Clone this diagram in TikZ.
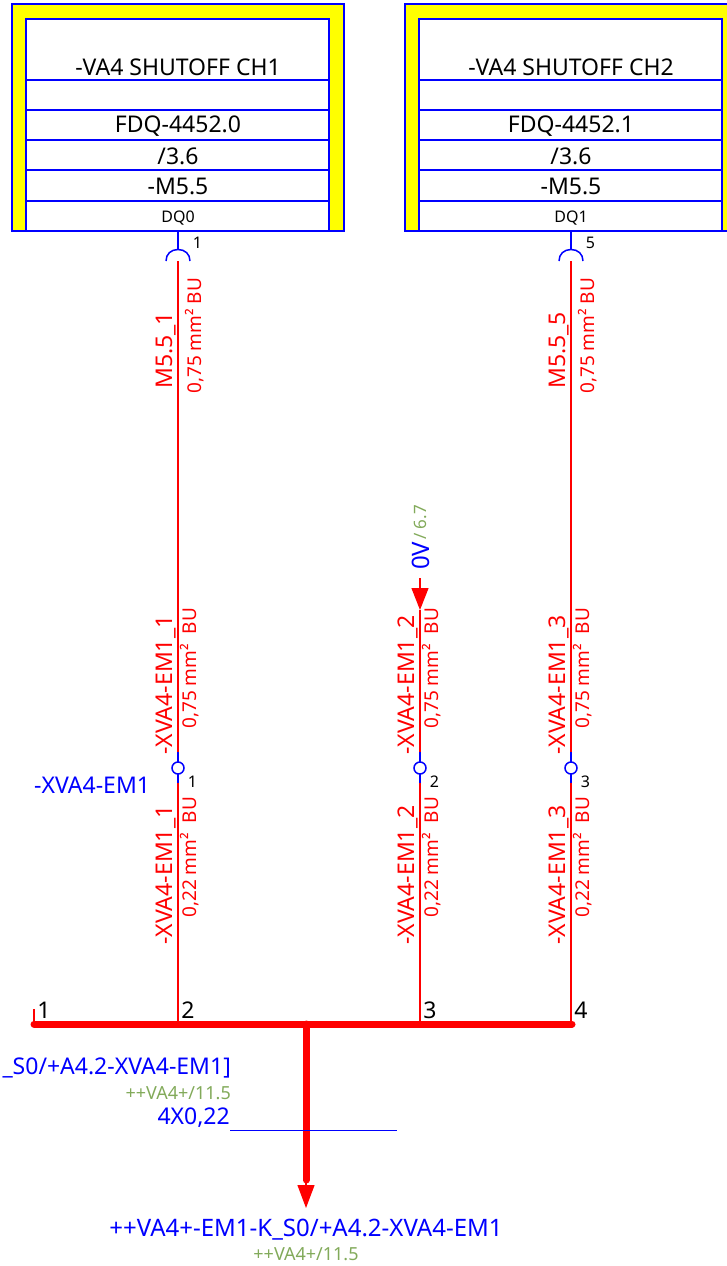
\documentclass[tikz,border=0pt]{standalone}
\usepackage{fontspec}
\setmainfont{Noto Sans}
\usetikzlibrary{arrows.meta}
\definecolor{refgreen}{RGB}{130,170,90}
\definecolor{refyellow}{RGB}{255,255,0}
\newcommand{\fsize}[1]{\fontsize{#1}{#1}\selectfont}
\begin{document}
\begin{tikzpicture}[
    x=1pt, y=-1pt,
    boxline/.style={draw=blue, line width=1.5pt},
    wire/.style={draw=red, line width=1.2pt},
    bus/.style={draw=red, line width=7pt},
    stub/.style={draw=blue, line width=1.5pt},
    term/.style={circle, draw=blue, fill=white, line width=1.5pt, minimum size=12pt, inner sep=0pt},
    rowtext/.style={font=\fsize{23}, inner sep=0pt},
    pintext/.style={font=\fsize{16}, inner sep=0pt},
    bustext/.style={font=\fsize{23}, inner sep=0pt},
    wirename/.style={rotate=90, anchor=base west, inner sep=0pt, text=red, font=\fsize{23}},
    wiredata/.style={rotate=90, anchor=base west, inner sep=0pt, text=red, font=\fsize{19}},
    bluetext/.style={text=blue, inner sep=0pt, font=\fsize{23}},
    greentext/.style={text=refgreen, inner sep=0pt, font=\fsize{18}}
]
\useasboundingbox (0,0) rectangle (726,1266);

% Boxes
\foreach \x/\ch/\fdq/\dq/\pin/\id in {178/CH1/FDQ-4452.0/DQ0/1/a,571/CH2/FDQ-4452.1/DQ1/5/c} {
    \path[fill=refyellow, boxline] (\x-166,231) -- (\x-166,4) -- (\x+166,4) -- (\x+166,231) -- cycle;
    \path[fill=white, boxline] (\x-152,231) -- (\x-152,19) -- (\x+151,19) -- (\x+151,231) -- cycle;
    \foreach \y in {80,110,140,170,201} {
        \draw[boxline] (\x-152,\y) -- (\x+151,\y);
    }
    \node[rowtext] (title\id) at (\x,67) {-VA4 SHUTOFF \ch};
    \node[rowtext] (fdq\id) at (\x,126) {\fdq};
    \node[rowtext] (page\id) at (\x,156) {/3.6};
    \node[rowtext] (mark\id) at (\x,186) {-M5.5};
    \node[inner sep=0pt, font=\fsize{16}] (dq\id) at (\x,218) {\dq};
    \coordinate (out\id) at (\x,231);
    \coordinate (sock\id) at (\x,249.5);
    \coordinate (plug\id) at (\x,261);
    \node[pintext] (pin\id) at (\x+19.5,243) {\pin};
    \draw[stub] (out\id) -- (sock\id);
    \draw[stub] (\x-12,261) .. controls (\x-12,254) and (\x-7,249.5) .. (sock\id)
        .. controls (\x+7,249.5) and (\x+12,254) .. (\x+12,261);
}

% Terminals
\foreach \x/\n/\id/\num in {178/1/a/2,420/2/b/3,571/3/c/4} {
    \coordinate (up\id) at (\x,752);
    \coordinate (down\id) at (\x,783);
    \coordinate (bus\id) at (\x,1024);
    \draw[wire] (down\id) -- (bus\id);
    \draw[stub] (up\id) -- (down\id);
    \node[term] (term\id) at (\x,768) {};
    \node[pintext] (tnum\id) at (\x+14.5,782) {\n};
    \node[bustext] (bnum\id) at (\x+10,1010) {\num};
    \node[wirename] (lowname\id) at (\x-6,945) {-XVA4-EM1\_\n};
    \node[wiredata] (lowdata\id) at (\x+18.5,918) {0,22 mm²\ \ BU};
    \node[wirename] (upname\id) at (\x-6,755) {-XVA4-EM1\_\n};
    \node[wiredata] (updata\id) at (\x+18.5,729) {0,75 mm²\ \ BU};
}
\node[bluetext, anchor=west] (xname) at (34,785) {-XVA4-EM1};

% Upper wires
\draw[wire] (pluga) -- (upa);
\draw[wire] (plugc) -- (upc);
\node[wirename] (topnamea) at (172,389) {M5.5\_1};
\node[wiredata] (topdataa) at (201,394) {0,75 mm² BU};
\node[wirename] (topnamec) at (565,389) {M5.5\_5};
\node[wiredata] (topdatac) at (594,394) {0,75 mm² BU};

% Potential
\coordinate (zerotop) at (420,578);
\coordinate (zerotip) at (420,610);
\draw[wire] (zerotip) -- (upb);
\draw[wire, -{Triangle[length=22pt, width=17pt]}] (zerotop) -- (zerotip);
\node[rotate=90, anchor=base west, inner sep=0pt, text=blue, font=\fsize{24}] (zero) at (429,570) {0V};
\node[rotate=90, anchor=base west, inner sep=0pt, text=refgreen, font=\fsize{17}] (zeropage) at (426,540) {/ 6.7};

% Bus
\coordinate (busleft) at (34,1024);
\coordinate (busright) at (572,1024);
\coordinate (stubtop) at (34,1009);
\coordinate (trunktop) at (306,1024);
\coordinate (trunkend) at (306,1180);
\coordinate (trunktip) at (306,1208);
\draw[wire] (stubtop) -- (busleft);
\draw[bus, line cap=round] (busleft) -- (busright);
\node[bustext] (bnumz) at (44,1010) {1};
\draw[draw=red, line width=7pt, line cap=round] (trunktop) -- (trunkend);
\draw[wire, -{Triangle[length=23pt, width=17pt]}] (trunkend) -- (trunktip);

% Cable
\node[bluetext, anchor=east] (cableref) at (231,1068) {\_S0/+A4.2-XVA4-EM1]};
\node[greentext, anchor=east] (cablepage) at (231,1093) {++VA4+/11.5};
\node[bluetext, anchor=east] (cabletype) at (230,1118) {4X0,22};
\coordinate (cableend) at (397,1130);
\draw[draw=blue, line width=1pt] (230,1130) -- (cableend);
\node[text=blue, inner sep=0pt, font=\fsize{24}] (target) at (306,1230) {++VA4+-EM1-K\_S0/+A4.2-XVA4-EM1};
\node[greentext] (targetpage) at (306,1254) {++VA4+/11.5};
\end{tikzpicture}
\end{document}
